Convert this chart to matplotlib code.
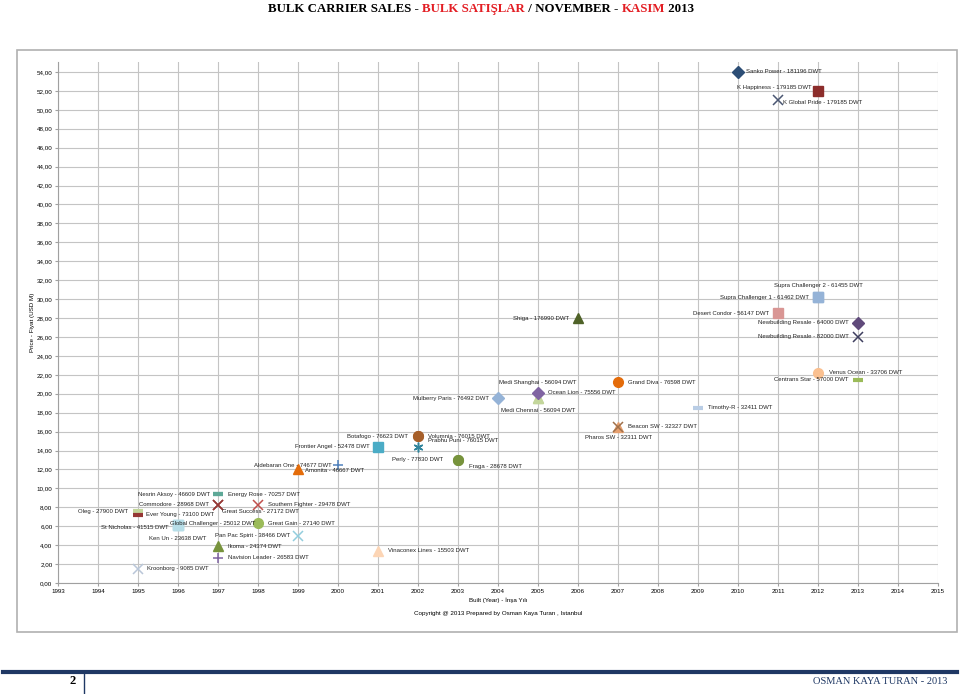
import matplotlib
matplotlib.use("Agg")
import matplotlib.pyplot as plt
from matplotlib.patches import Rectangle
from matplotlib.lines import Line2D
from matplotlib.ticker import MultipleLocator, FuncFormatter

# ship data: name, dwt, built year, price (USD M)
names = ["Sanko Power", "K Happiness", "K Global Pride", "Supra Challenger 2", "Supra Challenger 1",
         "Desert Condor", "Newbuilding Resale", "Newbuilding Resale", "Shiga", "Venus Ocean",
         "Centrans Star", "Grand Diva", "Medi Shanghai", "Medi Chennai", "Ocean Lion",
         "Mulberry Paris", "Timothy-R", "Pharos SW", "Beacon SW", "Botafogo",
         "Volumnia", "Prabhu Puni", "Frontier Angel", "Aldebaran One", "Amonita",
         "Perly", "Fraga", "Nesrin Aksoy", "Energy Rose", "Great Success",
         "Commodore", "Southern Fighter", "Oleg", "Ever Young", "St Nicholas",
         "Global Challenger", "Ken Un", "Great Gain", "Pan Pac Spirit", "Ikoma",
         "Navision Leader", "Vinaconex Lines", "Kroonborg"]
dwt = [181196, 179185, 179185, 61455, 61462,
       56147, 64000, 82000, 176990, 33706,
       57000, 76598, 56094, 56094, 75556,
       76492, 32411, 32311, 32327, 76623,
       76015, 76015, 52478, 74677, 46667,
       77830, 28678, 46609, 70257, 27172,
       28968, 29478, 27900, 73100, 41515,
       25012, 23638, 27140, 38466, 24374,
       26583, 15503, 9085]
built = [2010, 2012, 2011, 2012, 2012,
         2011, 2013, 2013, 2006, 2012,
         2013, 2007, 2005, 2005, 2005,
         2004, 2009, 2007, 2007, 2002,
         2002, 2002, 2001, 1999, 2000,
         2003, 2003, 1997, 1997, 1997,
         1997, 1998, 1995, 1995, 1996,
         1996, 1996, 1998, 1999, 1997,
         1997, 2001, 1995]
price = [54.0, 52.0, 51.0, 30.2, 30.2,
         28.5, 27.5, 26.0, 28.0, 22.2,
         21.5, 21.2, 19.5, 19.5, 20.1,
         19.5, 18.5, 16.5, 16.5, 15.5,
         15.5, 14.4, 14.4, 12.0, 12.5,
         13.0, 13.0, 9.4, 9.4, 8.25,
         8.25, 8.25, 7.6, 7.2, 6.1,
         6.1, 6.1, 6.3, 5.0, 3.9,
         2.65, 3.4, 1.5]

ast = (6, 2, 0)
markers = ["D", "s", "x", "s", "s", "s", "D", "x", "^", "o",
           "_", "o", "^", "^", "D", "D", "_", "^", "x", "o",
           "o", ast, "s", "^", "+", "o", "o", "_", "_", "x",
           "x", "x", "_", "_", "s", "s", "s", "o", "x", "^",
           "+", "^", "x"]
colors = ["#2c4d75", "#8c2d2b", "#4a5672", "#95b3d7", "#95b3d7", "#d99694", "#604a7b", "#3f3f5f", "#4f6228", "#fac090",
          "#9bbb59", "#e46c0a", "#c3d69b", "#c3d69b", "#8064a2", "#95b3d7", "#b9cde5", "#e6a070", "#a0704a", "#a65f2a",
          "#a65f2a", "#31859c", "#4bacc6", "#e46c0a", "#4f81bd", "#77933c", "#77933c", "#5ea897", "#5ea897", "#953735",
          "#953735", "#c0504d", "#c3d69b", "#953735", "#b7dee8", "#b7dee8", "#b7dee8", "#9bbb59", "#93cddd", "#77933c",
          "#8064a2", "#fcd5b5", "#b9c6d8"]
# label offsets in pixels (dx, dy, ha)
offsets = [(8, 0, "left"), (-6, 3, "right"), (5, -2, "left"), (0, 12, "center"), (-9, 0, "right"),
           (-9, 0, "right"), (-9, 0, "right"), (-9, 0, "right"), (-9, 0, "right"), (11, 0, "left"),
           (-9, 0, "right"), (10, 0, "left"), (0, 16, "center"), (0, -12, "center"), (10, 0, "left"),
           (-9, 0, "right"), (10, 0, "left"), (1, -11, "center"), (10, 0, "left"), (-10, 0, "right"),
           (10, 0, "left"), (10, 6, "left"), (-8, 0, "right"), (-5, 4, "center"), (-3, -6, "center"),
           (-15, 0, "right"), (11, -7, "left"), (-8, 0, "right"), (10, 0, "left"), (4, -7, "left"),
           (-9, 0, "right"), (10, 0, "left"), (-10, 0, "right"), (8, 0, "left"), (-9, -2, "right"),
           (-8, 2, "left"), (0, -13, "center"), (10, 0, "left"), (-8, 0, "right"), (10, 0, "left"),
           (10, 0, "left"), (10, 0, "left"), (9, 0, "left")]

plt.rcParams["font.family"] = ["Liberation Sans", "DejaVu Sans"]

fig = plt.figure(figsize=(9.6, 6.94), dpi=100)

# outer chart frame
fig.patches.append(Rectangle((17 / 960, 1 - 632 / 694), 940 / 960, 582 / 694, transform=fig.transFigure,
                             fill=False, edgecolor="#b0b0b0", linewidth=1.2))

ax = fig.add_axes([58 / 960, 1 - 583 / 694, 880 / 960, 521 / 694])
ax.set_xlim(1993, 2015)
ax.set_ylim(0, 55.05)
ax.xaxis.set_major_locator(MultipleLocator(1))
ax.yaxis.set_major_locator(MultipleLocator(2))
ax.yaxis.set_major_formatter(FuncFormatter(lambda v, p: ("%.2f" % v).replace(".", ",") if v <= 54 else ""))
ax.grid(True, color="#c4c4c4", linewidth=0.8)
ax.set_axisbelow(True)
for s in ["top", "right"]:
    ax.spines[s].set_visible(False)
for s in ["left", "bottom"]:
    ax.spines[s].set_color("#a0a0a0")
ax.tick_params(labelsize=4.5, length=2, color="#a0a0a0", pad=2)

for i in range(len(names)):
    m = markers[i]
    if m == "_":
        ax.plot(built[i], price[i], marker=m, color=colors[i], markersize=7, markeredgewidth=3, linestyle="none")
    elif m in ("x", "+") or m == ast:
        ax.plot(built[i], price[i], marker=m, color=colors[i], markersize=7, markeredgewidth=1.1, linestyle="none")
    else:
        ms = 6.5 if m == "D" else 7
        ax.plot(built[i], price[i], marker=m, color=colors[i], markersize=ms, markeredgecolor=colors[i],
                linestyle="none")
    dx, dy, ha = offsets[i]
    ax.annotate(f"{names[i]} - {dwt[i]} DWT", (built[i], price[i]), xytext=(dx, dy), textcoords="offset pixels",
                ha=ha, va="center", fontsize=4.3, color="#222222")

ax.set_xlabel("Built (Year) - İnşa Yılı", fontsize=4.5, labelpad=3)
ax.set_ylabel("Price - Fiyat (USD M)", fontsize=4.5, labelpad=1)
fig.text(498 / 960, 1 - 613 / 694, "Copyright @ 2013 Prepared by Osman Kaya Turan , Istanbul",
         ha="center", va="center", fontsize=4.5)

# title in coloured pieces
pieces = [("BULK CARRIER SALES - ", "#000000"), ("BULK SATIŞLAR", "#e31e24"), (" / NOVEMBER - ", "#000000"),
          ("KASIM", "#e31e24"), (" 2013", "#000000")]
renderer = fig.canvas.get_renderer()
texts = []
for s, c in pieces:
    t = fig.text(0, 1 - 9 / 694, s, color=c, fontsize=9.3, fontweight="bold", family="Liberation Serif",
                 va="center", ha="left")
    texts.append(t)
widths = [t.get_window_extent(renderer).width for t in texts]
x = 481 - sum(widths) / 2
for t, w in zip(texts, widths):
    t.set_x(x / 960)
    x += w

# footer
navy = "#1f3864"
fig.add_artist(Line2D([3 / 960, 957 / 960], [1 - 672 / 694] * 2, color=navy, linewidth=3))
fig.add_artist(Line2D([84 / 960, 84 / 960], [1 - 673 / 694, 0], color=navy, linewidth=1))
fig.text(73 / 960, 1 - 681 / 694, "2", fontsize=9, fontweight="bold", family="Liberation Serif",
         ha="center", va="center", color="#000000")
fig.text(947 / 960, 1 - 681 / 694, "OSMAN KAYA TURAN - 2013", fontsize=7.5, family="Liberation Serif",
         ha="right", va="center", color=navy)

fig.savefig("out.png", dpi=100)
